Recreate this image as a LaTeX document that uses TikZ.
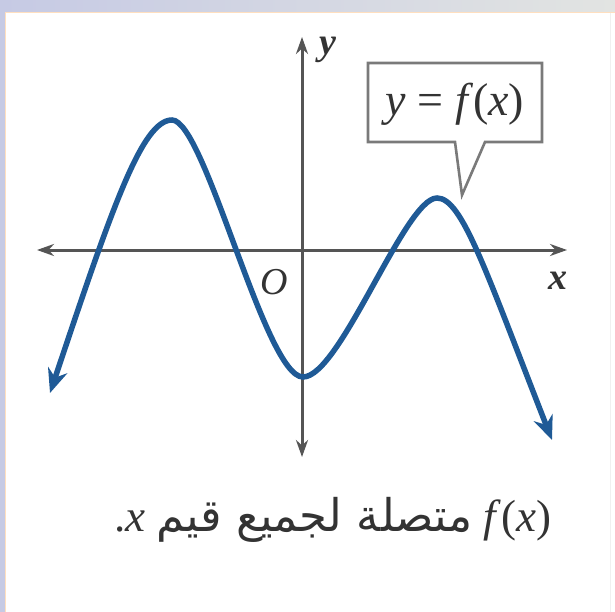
\documentclass[tikz,border=0pt]{standalone}
\usepackage{fontspec}
\setmainfont{Liberation Serif}
\newfontfamily\arabicfont[Script=Arabic]{DejaVu Sans}
\TeXXeTstate=1
\usetikzlibrary{arrows.meta}
\definecolor{axisgray}{HTML}{555555}
\definecolor{curveblue}{HTML}{1F5A96}
\definecolor{framelav}{HTML}{C6CAE4}
\definecolor{framegray}{HTML}{E2E4E2}
\definecolor{boxgray}{HTML}{7A7A7A}
\definecolor{txt}{HTML}{333333}
\tikzset{
  axisline/.style={draw=axisgray, line width=3pt, {Stealth[length=17pt,width=12pt]}-{Stealth[length=17pt,width=12pt]}},
  curveline/.style={draw=curveblue, line width=5.5pt, line cap=round, {Stealth[length=24pt,width=20pt]}-{Stealth[length=24pt,width=20pt]}},
  axlabel/.style={text=txt, inner sep=0pt, font=\fontsize{38}{38}\selectfont\itshape\bfseries},
  calloutline/.style={draw=boxgray, line width=2.6pt, line join=miter},
  calloutText/.style={inner sep=0pt, text=txt, font=\fontsize{46}{46}\selectfont},
}
\begin{document}
\begin{tikzpicture}[x=1pt,y=-1pt]
\useasboundingbox (0,0) rectangle (615,612);
% frame
\fill[framelav] (0,0) rectangle (615,612);
\shade[left color=framelav, right color=framegray] (0,0) rectangle (615,12);
\fill[white] (5,12) rectangle (615,612);
\draw[draw=orange!25, line width=1pt] (5.5,612) -- (5.5,12.5) -- (615,12.5);
\draw[draw=black!6, line width=1pt] (610,13) -- (610,612);
% axes
\coordinate (xl) at (37,250);
\coordinate (xr) at (567,250);
\coordinate (yt) at (302,37);
\coordinate (yb) at (302,457);
\draw[axisline] (xl) -- (xr);
\draw[axisline] (yb) -- (yt);
\node[axlabel] (ylab) at (328,50) {y};
\node[axlabel] (xlab) at (558,281) {x};
\node[axlabel, font=\fontsize{38}{38}\selectfont\itshape] (olab) at (274,282) {O};
% curve
\coordinate (c0) at (50,393);
\coordinate (m1) at (172,120);
\coordinate (m2) at (303,377);
\coordinate (m3) at (437,198);
\coordinate (c4) at (552,440);
\draw[curveline] (c0) .. controls (112,208) and (142,120) .. (m1)
  .. controls (205,120) and (265,377) .. (m2)
  .. controls (340,377) and (405,198) .. (m3)
  .. controls (462,198) and (485,269) .. (c4);
% callout
\coordinate (tip) at (462,195);
\draw[calloutline, fill=white] (455,142) -- (368,142) -- (368,63) -- (542,63) -- (542,142) -- (485,142) -- (tip) -- cycle;
\node[calloutText] (box) at (455,104) {\textit{y} = \textit{f}(\textit{x})};
% caption
\node[inner sep=0pt, text=txt, font=\fontsize{45}{45}\selectfont] (cap) at (333,520)
  {\beginR\beginL\textit{f}(\textit{x})\endL{} {\arabicfont متصلة لجميع قيم} \beginL\textit{x}\endL.\endR};
\end{tikzpicture}
\end{document}
